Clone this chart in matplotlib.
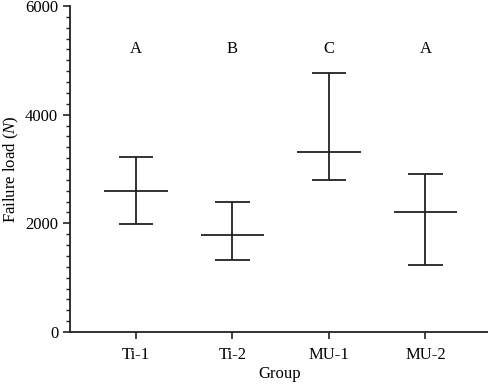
import matplotlib
matplotlib.use('Agg')
import matplotlib.pyplot as plt
from matplotlib.ticker import MultipleLocator

plt.rcParams['font.family'] = ['Liberation Serif', 'DejaVu Serif']
plt.rcParams['mathtext.fontset'] = 'custom'
plt.rcParams['mathtext.rm'] = 'Liberation Serif'
plt.rcParams['mathtext.it'] = 'Liberation Serif:italic'

groups = ['Ti-1', 'Ti-2', 'MU-1', 'MU-2']
means = [2590, 1780, 3320, 2210]
upper = [3225, 2395, 4765, 2900]
lower = [1985, 1330, 2805, 1225]
letters = ['A', 'B', 'C', 'A']
LETTER_Y = 5200

COLOR = '#222222'
LW = 1.3
FS = 12

fig = plt.figure(figsize=(4.89, 3.86), dpi=100)
ax = fig.add_axes([0.1431, 0.1399, 0.857, 0.8446])

pos = list(range(1, len(groups) + 1))

# barras de erro + media
ax.vlines(pos, lower, upper, color=COLOR, lw=LW)
for x, lo, hi, m in zip(pos, lower, upper, means):
    ax.hlines([lo, hi], x - 0.18, x + 0.18, color=COLOR, lw=LW)
    ax.hlines(m, x - 0.33, x + 0.33, color=COLOR, lw=LW)

for x, t in zip(pos, letters):
    ax.text(x, LETTER_Y, t, ha='center', va='center', fontsize=FS)

ax.set_xlim(0.317, 4.66)
ax.set_ylim(0, 6000)
ax.set_xticks(pos)
ax.set_xticklabels(groups)
ax.set_yticks([0, 2000, 4000, 6000])
ax.yaxis.set_minor_locator(MultipleLocator(200))

for s in ['top', 'right']:
    ax.spines[s].set_visible(False)
for s in ['left', 'bottom']:
    ax.spines[s].set_linewidth(1.3)
    ax.spines[s].set_color(COLOR)

ax.tick_params(axis='both', which='major', direction='out', length=5, width=1.2,
               labelsize=FS, colors=COLOR, labelcolor='black')
ax.tick_params(axis='y', which='minor', direction='out', length=3, width=1.0, colors=COLOR)
ax.tick_params(axis='x', pad=6)

ax.set_xlabel('Group', fontsize=FS, labelpad=2)
ax.set_ylabel(r'Failure load ($\mathit{N}$)', fontsize=FS, labelpad=3)

fig.savefig('out.png', dpi=100)
plt.close(fig)
